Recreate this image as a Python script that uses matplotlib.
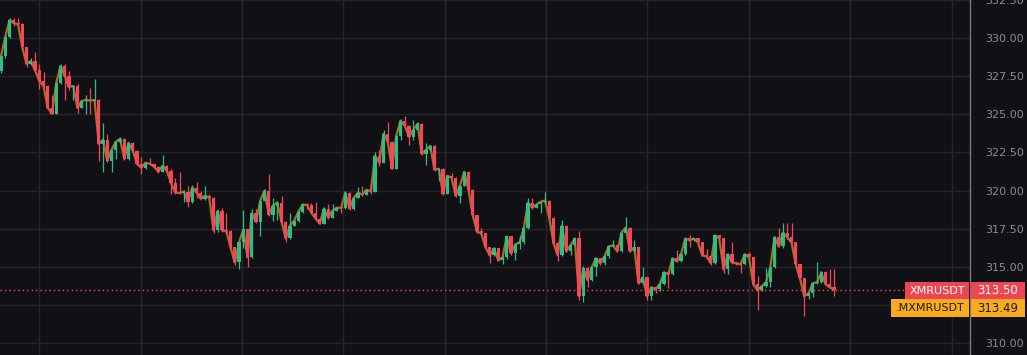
import numpy as np
import matplotlib
matplotlib.use('Agg')
import matplotlib.pyplot as plt
from matplotlib.patches import Rectangle

# XMRUSDT candles (close / high / low), open = previous close
first_open = 327.84
closes = [
    328.82, 330.07, 331.18, 330.98, 330.91, 329.41, 328.30, 328.50, 327.91, 327.19,
    326.86, 325.42, 325.03, 327.06, 328.17, 327.52, 326.80, 326.86, 325.42, 325.88,
    325.95, 325.90, 325.95, 323.07, 323.33, 321.94, 322.68, 323.20, 323.40, 322.09,
    323.14, 322.61, 321.76, 321.50, 321.83, 321.76, 321.57, 321.24, 321.63, 321.31,
    320.52,
    319.87, 319.85, 319.94, 319.28, 320.20, 319.87, 319.48, 319.67, 319.54, 317.39,
    318.69, 317.39, 317.35, 316.28, 315.29, 316.60, 317.45, 315.62, 318.50,
    317.97, 319.35, 320.00, 318.43, 319.02, 319.22, 317.97, 316.86, 317.71, 318.04,
    318.63, 319.09, 319.05, 318.56, 318.17, 317.84, 318.82, 318.23, 318.69, 318.89,
    318.85, 319.87, 318.82, 319.54, 319.87, 319.74, 320.06, 319.94, 322.29, 321.83,
    323.73, 323.20, 321.44, 323.60, 324.58, 324.25, 323.53, 323.99, 324.38, 322.42,
    322.68, 322.94, 321.37, 321.44, 319.80, 320.98, 320.85, 319.67, 320.33, 321.24,
    320.06, 318.37, 317.32, 317.19, 316.28, 315.75, 316.21, 315.43,
    315.62, 317.00, 315.88, 316.47, 316.60, 317.52, 319.22, 318.89, 319.09, 319.28,
    319.35, 318.23, 316.54, 315.75, 317.71, 316.01, 316.41, 316.86, 313.07, 314.90,
    314.12, 314.97, 315.56, 315.23, 315.69, 316.34, 316.41, 316.01, 317.25, 317.58,
    316.01, 316.28, 313.92, 314.31, 313.07, 313.66, 313.53, 313.86,
    314.64, 314.51, 315.56, 315.36, 315.82, 316.86, 316.73, 316.86, 316.60, 315.75,
    315.69, 315.23, 317.06, 316.86, 314.84, 315.82, 315.29, 315.23, 315.16, 315.82,
    315.62, 313.86, 313.47, 313.73, 313.99, 314.97, 316.93, 316.34, 317.25, 316.93,
    316.60, 315.16, 314.25, 313.07, 313.27, 313.92, 313.99, 314.64, 313.86, 313.66,
    313.50]

highs = [
    328.90, 330.15, 331.31, 331.31, 331.30, 331.00, 329.45, 328.69, 329.08, 328.30,
    327.77, 326.90, 326.27, 327.10, 328.30, 328.30, 327.84, 326.95, 327.00, 325.90,
    326.30, 326.70, 327.32, 325.98, 324.44, 323.73, 322.75, 323.25, 323.50, 323.46,
    323.20, 323.20, 322.65, 322.21, 321.90, 322.15, 321.80, 321.60, 322.35, 321.70,
    321.40,
    320.85, 321.24, 320.06, 320.30, 320.35, 320.59, 319.95, 320.33, 319.75, 319.60,
    318.75, 318.89, 318.50, 317.40, 316.30, 316.65, 318.76, 317.50, 318.80,
    318.82, 319.40, 320.10, 321.11, 319.50, 319.35, 319.67, 318.00, 318.50, 318.10,
    318.70, 319.15, 319.22, 319.22, 319.28, 318.20, 318.90, 319.15, 319.15, 318.95,
    318.95, 319.95, 319.90, 319.60, 320.26, 320.30, 320.12, 320.50, 322.50, 322.68,
    323.99, 324.51, 323.25, 323.65, 324.70, 324.90, 324.30, 324.64, 324.50, 324.45,
    323.14, 323.00, 323.00, 321.50, 321.50, 321.05, 321.17, 320.90, 320.40, 321.30,
    321.30, 320.10, 318.40, 317.58, 317.20, 316.30, 316.30, 316.25,
    315.70, 317.05, 317.05, 316.50, 317.00, 317.60, 319.50, 319.50, 319.15, 319.35,
    319.94, 319.40, 318.30, 316.60, 318.10, 317.75, 316.45, 316.90, 317.38, 315.03,
    314.97, 315.00, 315.60, 315.60, 315.75, 316.40, 316.73, 316.45, 317.30, 318.30,
    317.60, 316.73, 316.30, 314.97, 314.35, 313.70, 313.70, 314.12,
    314.70, 314.70, 315.60, 316.08, 315.90, 316.90, 317.06, 316.90, 316.90, 316.65,
    316.14, 315.70, 317.10, 317.12, 316.90, 315.90, 316.60, 315.35, 315.25, 315.90,
    316.00, 315.65, 314.38, 313.80, 314.90, 315.00, 317.00, 317.52, 317.90, 317.90,
    317.90, 316.65, 315.20, 314.30, 313.30, 314.00, 315.29, 314.70, 314.70, 314.84,
    314.84]

lows = [
    327.71, 328.69, 330.00, 330.78, 330.72, 329.20, 328.10, 328.23, 327.85, 326.66,
    326.66, 325.40, 325.00, 325.00, 327.00, 325.95, 326.60, 325.95, 325.10, 325.40,
    325.03, 325.03, 325.85, 321.95, 321.20, 321.90, 321.20, 322.09, 323.15, 322.00,
    322.00, 322.55, 321.70, 321.11, 321.45, 321.70, 321.50, 321.15, 321.20, 321.25,
    319.80,
    319.80, 319.75, 319.28, 318.95, 319.20, 319.54, 319.40, 319.40, 319.50, 317.25,
    317.30, 317.30, 317.25, 316.20, 315.15, 314.84, 316.21, 314.98, 315.60,
    317.90, 317.00, 319.30, 318.35, 318.04, 318.10, 317.90, 316.60, 316.80, 317.65,
    317.95, 318.55, 318.82, 318.50, 318.10, 317.80, 317.80, 318.15, 318.20, 318.65,
    318.50, 318.80, 318.75, 318.75, 319.50, 319.65, 319.70, 319.80, 319.90, 321.63,
    321.80, 323.07, 321.40, 321.40, 323.30, 324.20, 323.00, 323.30, 323.95, 322.35,
    321.70, 322.60, 321.30, 320.65, 319.70, 319.75, 320.80, 319.60, 319.22, 320.30,
    320.00, 318.30, 317.25, 317.10, 316.20, 315.23, 315.70, 315.40,
    315.20, 315.50, 315.80, 315.43, 316.15, 316.50, 317.50, 318.82, 318.85, 318.50,
    319.20, 318.20, 316.40, 315.36, 315.70, 315.95, 315.80, 316.35, 312.80, 312.70,
    313.66, 314.10, 314.40, 315.15, 315.10, 315.60, 316.30, 315.95, 315.95, 317.20,
    315.95, 315.95, 313.85, 313.90, 312.80, 312.85, 313.30, 313.40,
    313.80, 313.60, 314.45, 315.30, 315.30, 315.80, 316.28, 316.70, 316.55, 315.70,
    315.60, 315.15, 315.20, 316.80, 314.60, 314.51, 315.20, 315.15, 314.57, 315.10,
    315.55, 313.80, 312.20, 313.40, 313.70, 313.66, 314.90, 316.30, 316.21, 316.85,
    316.55, 315.10, 314.20, 311.80, 312.87, 313.00, 313.85, 313.95, 313.80, 313.60,
    313.07]

last_price = 313.50
mark_price = 313.49
y_ticks = [310.0, 312.5, 315.0, 317.5, 320.0, 322.5, 325.0, 327.5, 330.0, 332.5]

bg = '#111115'
up, down = '#2EBD85', '#F6465D'

c = np.array(closes)
h = np.array(highs)
l = np.array(lows)
o = np.concatenate([[first_open], c[:-1]])
x = np.arange(len(c))
col = np.where(c >= o, up, down)

W, H = 1027, 355
fig = plt.figure(figsize=(W / 100, H / 100), dpi=100, facecolor=bg)
ax = fig.add_axes([0, 0, 970 / W, 1], facecolor=bg)

step = 4.25
ax.set_xlim(-1 / step, 969 / step)
ax.set_ylim(309.22, 332.42)

# grid
ax.set_xticks(np.arange(9, 228, 23.85))
ax.set_yticks(y_ticks)
ax.grid(True, color='#25252a', lw=1)
ax.tick_params(axis='x', length=0, labelbottom=False)
ax.yaxis.tick_right()
ax.tick_params(axis='y', length=0, pad=11, labelsize=8, labelcolor='#8b8d93')
# 312.50 sits behind the price boxes in the original, so leave it blank
ax.set_yticklabels(['' if t == 312.5 else '%.2f' % t for t in y_ticks])
for s in ['top', 'left', 'bottom']:
    ax.spines[s].set_visible(False)
ax.spines['right'].set_color('#76767c')
ax.spines['right'].set_linewidth(1)

# mark price line
ax.plot(x, c, color='#a8701e', lw=1.6, zorder=2)

# candles
ax.vlines(x, l, h, colors=col, lw=0.9, zorder=3)
body = np.maximum(np.abs(c - o), 0.05)
ax.bar(x, body, bottom=np.minimum(o, c), width=0.72, color=col, lw=0, zorder=4)

# last price dotted line
ax.axhline(last_price, xmin=0, xmax=905 / 970, color=down, lw=1,
           ls=(0, (1, 2.2)), zorder=5)

# price labels on the right
ov = fig.add_axes([0, 0, 1, 1])
ov.set_xlim(0, W)
ov.set_ylim(H, 0)
ov.axis('off')
ov.patch.set_alpha(0)

ov.add_patch(Rectangle((905, 282), 64, 17, color='#EE4552', lw=0))
ov.add_patch(Rectangle((971, 282), 54, 17, color='#EE4552', lw=0))
ov.add_patch(Rectangle((891, 299), 78, 18, color='#F9AB1E', lw=0))
ov.add_patch(Rectangle((971, 299), 54, 18, color='#F9AB1E', lw=0))

ov.text(937, 290.5, 'XMRUSDT', color='white', fontsize=8, ha='center', va='center')
ov.text(998, 290.5, '%.2f' % last_price, color='white', fontsize=8.5,
        ha='center', va='center')
ov.text(930, 308, '.MXMRUSDT', color='#1b1b1b', fontsize=8, ha='center', va='center')
ov.text(998, 308, '%.2f' % mark_price, color='#1b1b1b', fontsize=8.5,
        ha='center', va='center')

plt.savefig('out.png', dpi=100, facecolor=bg)
plt.close(fig)
